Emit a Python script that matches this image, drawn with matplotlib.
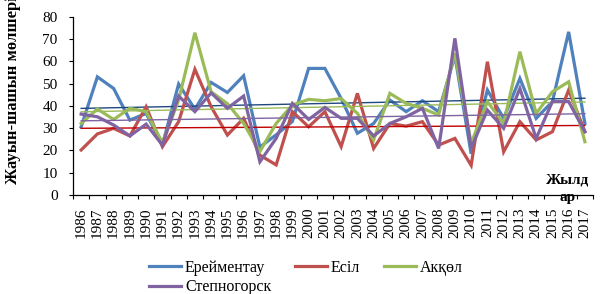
import numpy as np
import matplotlib
matplotlib.use("Agg")
import matplotlib.pyplot as plt

# Жауын-шашын мөлшері, 1986-2017
years = list(range(1986, 2018))
ereimentau = [30.6, 53, 47.8, 33.6, 36.6, 22.5, 49.8, 38.5, 50.5, 46, 53.5, 21.5, 27, 33,
              56.8, 56.8, 43.3, 27.7, 32.1, 42.6, 37.4, 42.3, 37.4, 62.5, 18.5, 47.1,
              34.4, 52.3, 34.4, 41.9, 73.2, 32.1]
esil = [20.2, 27.4, 29.9, 26.5, 39.6, 21.7, 32.9, 56.4, 39.6, 26.9, 34.4, 17.9, 13.5, 37.4,
        30.6, 37.4, 21.7, 45.6, 20.9, 32.1, 30.9, 32.9, 22.4, 25.4, 13.3, 59.8, 19.4,
        32.9, 24.7, 28.4, 47.1, 28.4]
akkol = [32.1, 38.6, 33.9, 38.9, 37.4, 23.5, 42.6, 72.8, 46.3, 41, 32.1, 19.5, 32.1, 40.4,
         42.9, 42.3, 43.3, 36.6, 24.7, 45.6, 41.1, 38.9, 35.9, 63.5, 23.2, 41.9, 32.1,
         64.3, 36.6, 46.3, 50.8, 23.9]
stepnogorsk = [36.3, 35.1, 31.4, 26.5, 31.8, 22.4, 44.4, 37.4, 45.8, 38.9, 44.4, 14.9, 25.4,
               41.1, 33.9, 39.3, 34.4, 34.4, 26.5, 32.1, 35.1, 38.9, 20.9, 70.3, 21, 38.1,
               29.9, 47.8, 25.4, 41.9, 41.9, 28.4]

names = ["Ерейментау", "Есіл", "Акқөл", "Степногорск"]
series = [ereimentau, esil, akkol, stepnogorsk]
colors = ["#4F81BD", "#C0504D", "#9BBB59", "#8064A2"]
trend_colors = ["#1F497D", "#C00000", "#9BBB59", "#8064A2"]

plt.rcParams["font.family"] = ["Liberation Serif", "DejaVu Serif"]

fig = plt.figure(figsize=(6.12, 2.94), dpi=100)
ax = fig.add_axes([0.1193, 0.3367, 0.8497, 0.6065])

x = np.arange(len(years))
handles = []
for vals, name, c, tc in zip(series, names, colors, trend_colors):
    h, = ax.plot(x, vals, color=c, lw=2.3, label=name, solid_joinstyle="miter")
    handles.append(h)
    k, b = np.polyfit(x, vals, 1)
    ax.plot(x, k * x + b, color=tc, lw=1.0)

ax.set_xlim(-0.5, len(years) - 0.5)
ax.set_ylim(0, 80)
ax.set_yticks(range(0, 81, 10))
ax.tick_params(axis="y", direction="out", length=3, width=0.8, pad=8, labelsize=11)

ax.set_xticks(np.arange(-0.5, len(years)), labels=[])
ax.set_xticks(x, labels=[str(y) for y in years], minor=True)
ax.tick_params(axis="x", which="major", direction="out", length=3, width=0.8)
ax.tick_params(axis="x", which="minor", length=0, pad=9, labelsize=11, labelrotation=90)

for s in ["top", "right"]:
    ax.spines[s].set_visible(False)
for s in ["left", "bottom"]:
    ax.spines[s].set_linewidth(0.9)

# the axis title is longer than the plot height, like in the original
fig.text(0.021, 1 - 184 / 294, "Жауын-шашын мөлшері, мм", rotation=90,
         ha="center", va="bottom", fontsize=12, fontweight="bold")
fig.text(568 / 612, 1 - 189 / 294, "Жылд\nар", ha="center", va="center",
         fontsize=11, fontweight="bold", linespacing=1.45)

order = [0, 3, 1, 2]
fig.legend([handles[i] for i in order], [names[i] for i in order], loc="center",
           bbox_to_anchor=(0.5, 1 - 277.5 / 294), ncol=3, frameon=False, fontsize=11.5,
           handlelength=2.0, handletextpad=0.25, columnspacing=1.5, labelspacing=0.25)

fig.savefig("out.png", dpi=100)
